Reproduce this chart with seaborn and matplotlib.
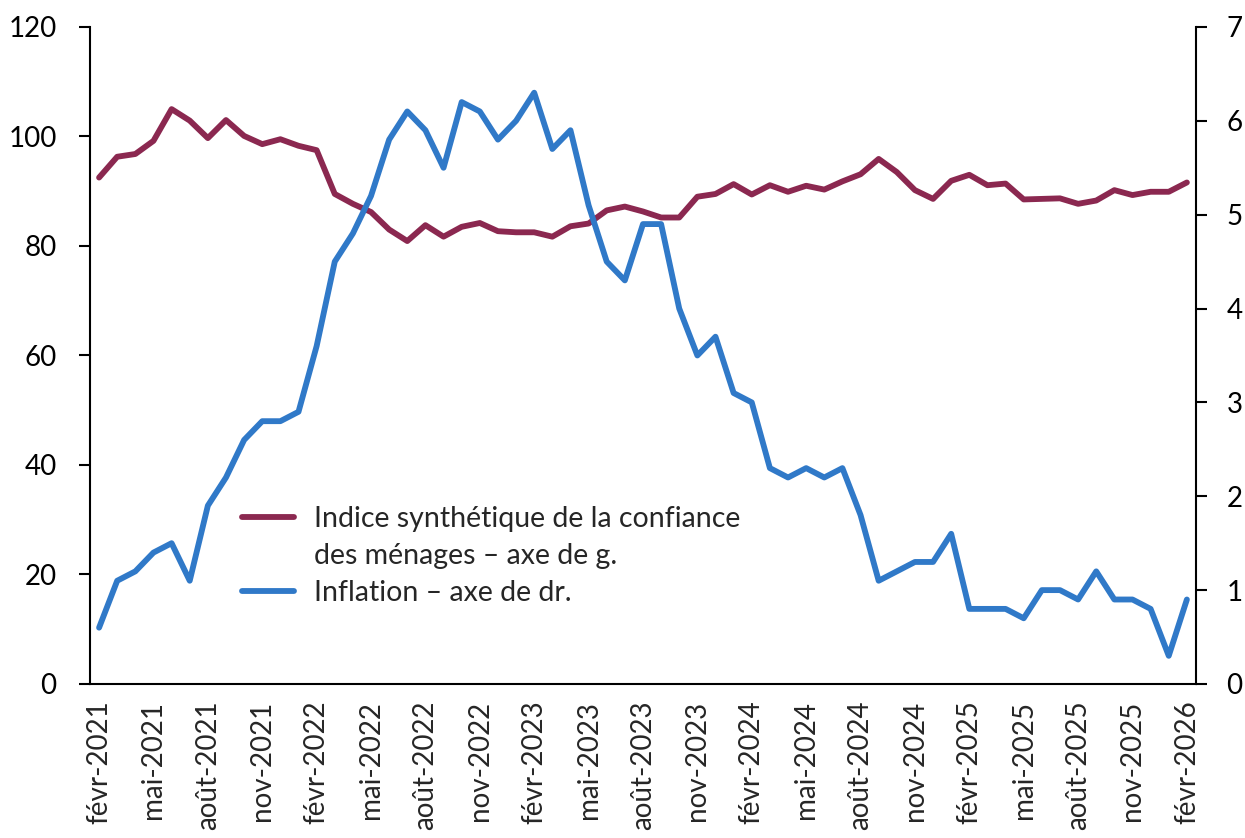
import seaborn as sns
import pandas as pd
import matplotlib.pyplot as plt
from matplotlib.lines import Line2D

# Monthly series, févr-2021 to févr-2026
confiance = [92.5, 96.3, 96.8, 99.2, 105.0, 102.9, 99.7, 103.0, 100.1, 98.6, 99.5, 98.3, 97.5,
             89.5, 87.7, 86.2, 83.0, 80.9, 83.8, 81.7, 83.5, 84.2, 82.7, 82.5, 82.5, 81.7, 83.6, 84.1, 86.5,
             87.2, 86.3, 85.2, 85.2, 89.0, 89.5, 91.3, 89.4, 91.1, 89.9, 91.0, 90.3, 91.8, 93.1, 95.9, 93.5, 90.2, 88.6,
             91.9, 93.0, 91.1, 91.4, 88.5, 88.6, 88.7, 87.7, 88.3, 90.2, 89.3, 89.9, 89.9, 91.6]
inflation = [0.6, 1.1, 1.2, 1.4, 1.5, 1.1, 1.9, 2.2, 2.6, 2.8, 2.8, 2.9, 3.6,
             4.5, 4.8, 5.2, 5.8, 6.1, 5.9, 5.5, 6.2, 6.1, 5.8, 6.0, 6.3, 5.7, 5.9, 5.1, 4.5,
             4.3, 4.9, 4.9, 4.0, 3.5, 3.7, 3.1, 3.0, 2.3, 2.2, 2.3, 2.2, 2.3, 1.8, 1.1, 1.2, 1.3, 1.3,
             1.6, 0.8, 0.8, 0.8, 0.7, 1.0, 1.0, 0.9, 1.2, 0.9, 0.9, 0.8, 0.3, 0.9]
tick_labels = ["févr-2021", "mai-2021", "août-2021", "nov-2021",
               "févr-2022", "mai-2022", "août-2022", "nov-2022",
               "févr-2023", "mai-2023", "août-2023", "nov-2023",
               "févr-2024", "mai-2024", "août-2024", "nov-2024",
               "févr-2025", "mai-2025", "août-2025", "nov-2025", "févr-2026"]

df = pd.DataFrame({"mois": range(len(confiance)), "confiance": confiance, "inflation": inflation})

red = "#8B2850"
blue = "#3079C8"

sns.set_style("ticks")
plt.rcParams['font.family'] = ['Lato', 'DejaVu Sans']

fig = plt.figure(figsize=(12.45, 8.38), dpi=100)
ax = fig.add_axes([0.0723, 0.1838, 0.8883, 0.784])
ax2 = ax.twinx()

sns.lineplot(data=df, x="mois", y="confiance", ax=ax, color=red, linewidth=4.2)
sns.lineplot(data=df, x="mois", y="inflation", ax=ax2, color=blue, linewidth=4.2)

ax.set_xlim(-0.5, len(confiance) - 0.5)
ax.set_ylim(0, 120)
ax2.set_ylim(0, 7)
ax.set_yticks(range(0, 121, 20))
ax2.set_yticks(range(0, 8))
ax.set_xticks(range(0, len(confiance), 3))
ax.set_xticklabels(tick_labels, rotation=90)
ax.set_xlabel("")
ax.set_ylabel("")
ax2.set_ylabel("")

for a in (ax, ax2):
    a.spines["top"].set_visible(False)
    for s in a.spines.values():
        s.set_color("black")
        s.set_linewidth(1.5)
    a.tick_params(axis="y", labelsize=20, length=8, width=1.5, colors="black")
ax.spines["right"].set_visible(False)
ax2.spines["left"].set_visible(False)
ax2.spines["bottom"].set_visible(False)
ax.tick_params(axis="x", labelsize=20, length=0, pad=12)
ax.tick_params(axis="y", pad=16)
ax2.tick_params(axis="y", pad=14)

handles = [Line2D([], [], color=red, linewidth=4.2),
           Line2D([], [], color="none", linewidth=4.2),
           Line2D([], [], color=blue, linewidth=4.2)]
labels = ["Indice synthétique de la confiance", "des ménages – axe de g.", "Inflation – axe de dr."]
ax.legend(handles, labels, loc="upper left", bbox_to_anchor=(0.137, 0.271), frameon=False,
          fontsize=20.5, handlelength=1.86, handletextpad=0.7, labelspacing=0.38,
          borderaxespad=0, borderpad=0)

fig.savefig("out.png", dpi=100)
